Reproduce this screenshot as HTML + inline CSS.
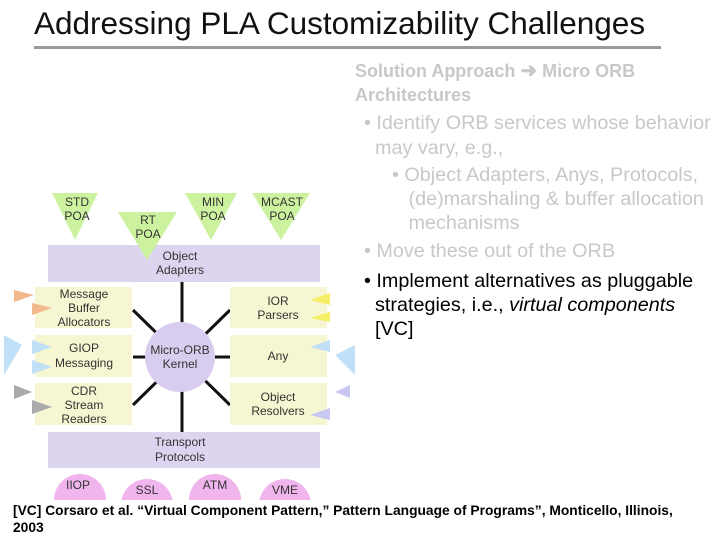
<!DOCTYPE html>
<html><head><style>
body{margin:0;width:720px;height:540px;background:#fff;position:relative;overflow:hidden;font-family:"Liberation Sans",sans-serif}
.t{position:absolute;white-space:nowrap}
</style></head><body>
<div class="t" style="left:34px;top:5px;font-size:31.5px;color:#111">Addressing PLA Customizability Challenges</div>
<div style="position:absolute;left:34px;top:46px;width:627px;height:3px;background:#9a9a9a"></div>
<div class="t" style="left:355px;top:59px;font-size:18px;font-weight:bold;color:#c8c8c8;line-height:24px">Solution Approach <span style="font-size:20px">&#10140;</span> Micro ORB<br>Architectures</div>
<div class="t" style="left:364px;top:111px;font-size:19.8px;color:#c8c8c8;line-height:25px">• Identify ORB services whose behavior<br>&nbsp;&nbsp;may vary, e.g.,</div>
<div class="t" style="left:392px;top:163px;font-size:19.8px;color:#c8c8c8;line-height:24px">• Object Adapters, Anys, Protocols,<br>&nbsp;&nbsp;&nbsp;(de)marshaling &amp; buffer allocation<br>&nbsp;&nbsp;&nbsp;mechanisms</div>
<div class="t" style="left:364px;top:240px;font-size:19.8px;color:#c8c8c8">• Move these out of the ORB</div>
<div class="t" style="left:364px;top:269px;font-size:19.8px;color:#000;line-height:24px">• Implement alternatives as pluggable<br>&nbsp;&nbsp;strategies, i.e., <i>virtual components</i><br>&nbsp;&nbsp;[VC]</div>
<div class="t" style="left:13px;top:502px;font-size:13.8px;font-weight:bold;color:#000;line-height:17px">[VC] Corsaro et al. “Virtual Component Pattern,” Pattern Language of Programs”, Monticello, Illinois,<br>2003</div>
<svg style="position:absolute;left:0;top:0" width="360" height="500" font-family="Liberation Sans,sans-serif" font-size="12" fill="#333">
<g stroke="#111" stroke-width="3">
<line x1="182" y1="282" x2="182" y2="432"/>
<line x1="133" y1="310" x2="230" y2="405"/>
<line x1="230" y1="310" x2="133" y2="405"/>
<line x1="133" y1="357" x2="230" y2="357"/>
</g>
<g fill="#ccf2a0">
<polygon points="52,193 98,193 75,240"/>
<polygon points="185,193 237,193 211,240"/>
<polygon points="252,193 310,193 281,240"/>
</g>
<rect x="48" y="245" width="272" height="37" fill="#ddd5ef"/>
<polygon points="118,212 177,212 147,260" fill="#ccf2a0"/>
<g text-anchor="middle">
<text x="77" y="206">STD</text><text x="77" y="220">POA</text>
<text x="148" y="224">RT</text><text x="148" y="238">POA</text>
<text x="213" y="206">MIN</text><text x="213" y="220">POA</text>
<text x="282" y="206">MCAST</text><text x="282" y="220">POA</text>
<text x="180" y="260">Object</text><text x="180" y="274">Adapters</text>
</g>
<g fill="#f7f6d2">
<rect x="35" y="287" width="97" height="41"/><rect x="35" y="335" width="97" height="42"/><rect x="35" y="383" width="97" height="42"/>
<rect x="230" y="287" width="97" height="41"/><rect x="230" y="335" width="97" height="42"/><rect x="230" y="383" width="97" height="42"/>
</g>
<g fill="#f3b98c"><polygon points="14,290 34,295 14,302"/><polygon points="32,303 52,308 32,315"/></g>
<g fill="#bfe0f7"><polygon points="4,335 22,345 4,375"/><polygon points="32,340 52,347 32,354"/><polygon points="32,360 52,367 32,374"/></g>
<g fill="#aaaaaa"><polygon points="14,385 32,392 14,399"/><polygon points="32,400 52,407 32,414"/></g>
<g fill="#f5ee66"><polygon points="330,293 310,300 330,305"/><polygon points="330,312 310,318 330,322"/></g>
<g fill="#bfe0f7"><polygon points="330,340 310,347 330,352"/><polygon points="355,345 335,355 355,375"/></g>
<g fill="#c8c6f2"><polygon points="350,385 335,392 350,398"/><polygon points="330,408 310,415 330,420"/></g>
<circle cx="180" cy="357" r="35" fill="#d8cdee"/>
<rect x="48" y="432" width="272" height="36" fill="#ddd5ef"/>
<g fill="#f0b5ec">
<path d="M54,500 A26,26 0 0 1 106,500 Z"/><path d="M121,505 A26,26 0 0 1 173,505 Z"/>
<path d="M189,500 A26,26 0 0 1 241,500 Z"/><path d="M259,505 A26,26 0 0 1 311,505 Z"/>
</g>
<g text-anchor="middle">
<text x="84" y="298">Message</text><text x="84" y="312">Buffer</text><text x="84" y="326">Allocators</text>
<text x="84" y="352">GIOP</text><text x="84" y="367">Messaging</text>
<text x="84" y="395">CDR</text><text x="84" y="409">Stream</text><text x="84" y="423">Readers</text>
<text x="278" y="305">IOR</text><text x="278" y="319">Parsers</text>
<text x="278" y="360">Any</text>
<text x="278" y="401">Object</text><text x="278" y="415">Resolvers</text>
<text x="180" y="354">Micro-ORB</text><text x="180" y="368">Kernel</text>
<text x="180" y="446">Transport</text><text x="180" y="461">Protocols</text>
<text x="78" y="489">IIOP</text><text x="147" y="494">SSL</text><text x="215" y="489">ATM</text><text x="285" y="494">VME</text>
</g>
</svg>
</body></html>
